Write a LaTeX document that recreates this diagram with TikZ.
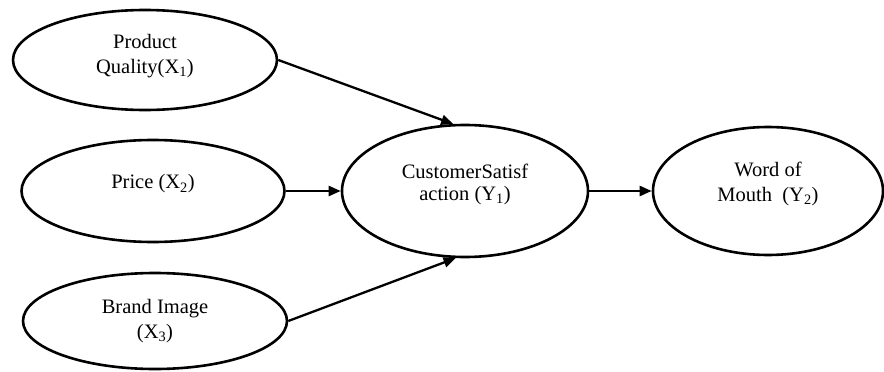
\documentclass[tikz,border=0pt]{standalone}
\usepackage{fontspec}
\setmainfont{Liberation Serif}
\usetikzlibrary{shapes.geometric,arrows.meta}
\begin{document}
\begin{tikzpicture}[x=1pt,y=-1pt,
    var/.style={draw,ellipse,line width=2.6pt,inner sep=0pt},
    vtext/.style={align=center,font=\fontsize{20.5}{25}\selectfont},
    rel/.style={line width=2.3pt,-{Triangle[length=12pt,width=10pt]}}]
    \useasboundingbox (0,0) rectangle (884,372);

    % 独立変数
    \node[var,minimum width=264pt,minimum height=100pt,
      label={[vtext,yshift=4pt]center:Product\\Quality(X\textsubscript{1})}] (pq) at (145,60) {};
    \node[var,minimum width=263pt,minimum height=102pt,
      label={[vtext,yshift=7pt]center:Price (X\textsubscript{2})}] (pr) at (153,191) {};
    \node[var,minimum width=264pt,minimum height=96pt,
      label={[vtext,yshift=0pt]center:Brand Image\\(X\textsubscript{3})}] (bi) at (155,321) {};

    % 媒介変数と従属変数
    \node[var,minimum width=246pt,minimum height=132pt,
      label={[vtext,yshift=7pt,font=\fontsize{20.5}{22}\selectfont]center:CustomerSatisf\\action (Y\textsubscript{1})}] (cs) at (465,191) {};
    \node[var,minimum width=230pt,minimum height=128pt,
      label={[vtext,yshift=7pt]center:Word of\\Mouth\ \ (Y\textsubscript{2})}] (wom) at (768,191) {};

    % 矢印
    \draw[rel] (pq.east) -- (cs.100);
    \draw[rel] (pr) -- (cs);
    \draw[rel] (bi.east) -- (cs.262);
    \draw[rel] (cs) -- (wom);
  \end{tikzpicture}
\end{document}
